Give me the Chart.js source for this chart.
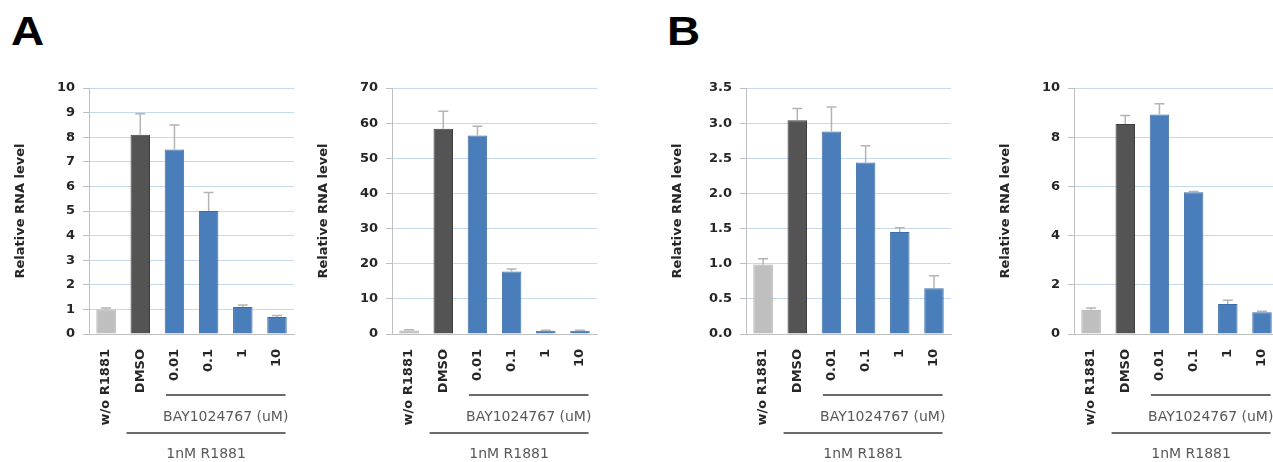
<!DOCTYPE html>
<html>
<head>
<meta charset="utf-8">
<script src="https://cdn.jsdelivr.net/npm/chart.js@4.4.1/dist/chart.umd.min.js"></script>
<style>
  html, body { margin: 0; padding: 0; background: #fff; overflow: hidden; }
  body { width: 1273px; height: 462px; position: relative; }
  canvas { position: absolute; top: 60px; }
  .tag { position: absolute; font: bold 41px "Liberation Sans", Arial, sans-serif; line-height: 41px; color: #000;
         transform: scaleX(1.12); transform-origin: left top; }
</style>
</head>
<body>
<div class="tag" style="left:11px; top:11px;">A</div>
<div class="tag" style="left:667px; top:11px;">B</div>
<canvas id="a1" width="300" height="402" style="left:0px"></canvas>
<canvas id="a2" width="300" height="402" style="left:303px"></canvas>
<canvas id="b1" width="300" height="402" style="left:657px"></canvas>
<canvas id="b2" width="300" height="402" style="left:985px"></canvas>
<script>
// categories shared by all four panels
const categories = ['w/o R1881', 'DMSO', '0.01', '0.1', '1', '10'];
const drugLabel = 'BAY1024767 (uM)';
const hormoneLabel = '1nM R1881';
const yTitle = 'Relative RNA level';

// panel A, left
const a1Values = [1.0, 8.1, 7.5, 5.0, 1.1, 0.69];
const a1Errors = [0.06, 0.85, 1.0, 0.75, 0.08, 0.06];
// panel A, right
const a2Values = [1.0, 58.4, 56.5, 17.8, 0.9, 0.9];
const a2Errors = [0.2, 5.0, 2.6, 0.7, 0.2, 0.2];
// panel B, left
const b1Values = [0.99, 3.04, 2.88, 2.44, 1.45, 0.65];
const b1Errors = [0.08, 0.17, 0.35, 0.24, 0.06, 0.18];
// panel B, right
const b2Values = [0.99, 8.54, 8.92, 5.76, 1.22, 0.88];
const b2Errors = [0.07, 0.34, 0.44, 0.03, 0.15, 0.04];

const fillColors = ['#bfbfbf', '#545454', '#4a7ebb', '#4a7ebb', '#4a7ebb', '#4a7ebb'];
const edgeColors = ['#a8a8a8', '#3f3f3f', '#3d6ca6', '#3d6ca6', '#3d6ca6', '#3d6ca6'];
const boldFont = { family: 'DejaVu Sans', weight: 'bold', size: 13 };

// upper-only error bars, Excel style
const errorBars = {
  id: 'errorBars',
  afterDatasetsDraw(chart) {
    const { ctx } = chart;
    const ys = chart.scales.y;
    const ds = chart.data.datasets[0];
    const meta = chart.getDatasetMeta(0);
    ctx.save();
    ctx.strokeStyle = '#b4b4b4';
    ctx.lineWidth = 1.5;
    meta.data.forEach((bar, i) => {
      const yTop = ys.getPixelForValue(ds.data[i] + ds.errors[i]);
      const yBar = ys.getPixelForValue(ds.data[i]);
      ctx.beginPath();
      ctx.moveTo(bar.x, yBar);
      ctx.lineTo(bar.x, yTop);
      ctx.moveTo(bar.x - 5, yTop);
      ctx.lineTo(bar.x + 5, yTop);
      ctx.stroke();
    });
    ctx.restore();
  }
};

// treatment brackets under the category labels
const groupLines = {
  id: 'groupLines',
  afterDraw(chart) {
    const { ctx, chartArea } = chart;
    const xs = chart.scales.x;
    const step = xs.getPixelForValue(1) - xs.getPixelForValue(0);
    const b = chartArea.bottom;
    const upL = xs.getPixelForValue(2) - 0.25 * step;
    const upR = xs.getPixelForValue(5) + 0.25 * step;
    const loL = xs.getPixelForValue(1) - 0.4 * step;
    ctx.save();
    ctx.strokeStyle = '#6b6b6b';
    ctx.lineWidth = 2;
    ctx.beginPath();
    ctx.moveTo(upL, b + 61);
    ctx.lineTo(upR, b + 61);
    ctx.moveTo(loL, b + 99);
    ctx.lineTo(upR, b + 99);
    ctx.stroke();
    ctx.fillStyle = '#595959';
    ctx.font = '14px "DejaVu Sans"';
    ctx.textAlign = 'center';
    ctx.textBaseline = 'middle';
    ctx.fillText(drugLabel, (upL + upR) / 2, b + 83);
    ctx.fillText(hormoneLabel, (loL + upR) / 2, b + 120);
    ctx.restore();
  }
};

function makePanel(id, values, errors, yMax, yStep, decimals) {
  return new Chart(document.getElementById(id), {
    type: 'bar',
    data: {
      labels: categories,
      datasets: [{
        data: values,
        errors: errors,
        backgroundColor: fillColors,
        borderColor: edgeColors,
        borderWidth: 1,
        categoryPercentage: 1,
        barPercentage: 0.57
      }]
    },
    plugins: [errorBars, groupLines],
    options: {
      responsive: false,
      animation: false,
      devicePixelRatio: 1,
      layout: { autoPadding: false, padding: { top: 28, right: 5, left: 0, bottom: 0 } },
      plugins: { legend: { display: false }, tooltip: { enabled: false } },
      scales: {
        x: {
          grid: { display: false },
          border: { display: true, color: '#bfbfbf', width: 1 },
          ticks: { maxRotation: 90, minRotation: 90, autoSkip: false, padding: 7, color: '#262626', font: boldFont },
          afterFit(scale) { scale.height = 128; }
        },
        y: {
          min: 0,
          max: yMax,
          ticks: {
            stepSize: yStep,
            padding: 8,
            color: '#262626',
            font: boldFont,
            callback: v => Number(v).toFixed(decimals)
          },
          grid: { color: '#c6d9f0', tickColor: '#bfbfbf', tickLength: 6 },
          border: { color: '#bfbfbf', width: 1 },
          title: { display: true, text: yTitle, color: '#262626', font: boldFont, padding: { top: 13, bottom: 0 } },
          afterFit(scale) { scale.width = 89; }
        }
      }
    }
  });
}

makePanel('a1', a1Values, a1Errors, 10, 1, 0);
makePanel('a2', a2Values, a2Errors, 70, 10, 0);
makePanel('b1', b1Values, b1Errors, 3.5, 0.5, 1);
makePanel('b2', b2Values, b2Errors, 10, 2, 0);
</script>
</body>
</html>
